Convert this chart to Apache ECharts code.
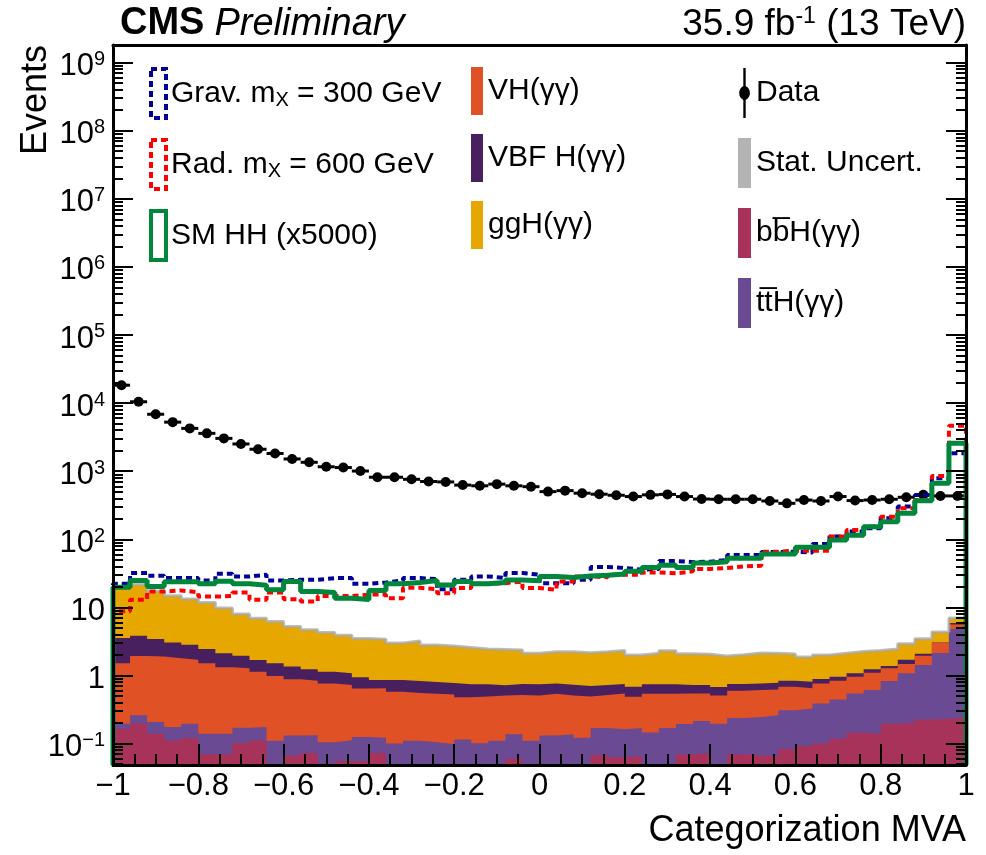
<!DOCTYPE html>
<html>
<head>
<meta charset="utf-8">
<title>Categorization MVA</title>
<script src="https://cdn.jsdelivr.net/npm/echarts@6.0.0/dist/echarts.min.js"></script>
<style>
  html, body { margin: 0; padding: 0; background: #fff; }
  #chart { width: 986px; height: 855px; }
</style>
</head>
<body>
<div id="chart"></div>
<script>
// 50 bins of the MVA output, from -1 to 1
var binLow = -1, binWidth = 0.04, nBins = 50;

// observed events
var dataEvents = [18300, 10450, 6850, 5250, 4250, 3590, 3030, 2510, 2100, 1820,
                  1510, 1350, 1160, 1130, 1005, 815, 815, 760, 705, 695,
                  625, 610, 645, 610, 592, 501, 518, 475, 459, 443,
                  424, 449, 456, 424, 390, 387, 387, 387, 365, 337,
                  377, 365, 424, 370, 377, 387, 414, 449, 433, 433];

// signal hypotheses
var gravSignal = [22.2, 31.9, 29.1, 26.9, 26.9, 24.8, 31.2, 28.4, 30.2, 24.8,
                  25.4, 25.4, 26.9, 26.9, 22.2, 23.2, 24.8, 26.9, 26.1, 18.5,
                  25.4, 28.5, 26.9, 31.9, 30.2, 22.7, 22.7, 25.4, 39.2, 37.9,
                  35.8, 36.6, 48, 46.2, 46.9, 49.7, 58.9, 58.9, 65.1, 65.6,
                  63.8, 85.5, 110, 130, 145, 204, 302, 447, 788, 1830];
var radSignal = [8.8, 12.9, 17.1, 17.7, 16.7, 14.4, 14.7, 16.5, 12.9, 16.5,
                 13.2, 12.2, 14.7, 14.7, 15.4, 15.4, 13.6, 19.4, 18.5, 16.1,
                 19.2, 22.2, 22.7, 24, 19.2, 18.1, 24, 28.5, 27.7, 30.2,
                 30.2, 32.6, 31.6, 33.8, 36.6, 37.9, 40, 40.9, 65.8, 68.1,
                 68.1, 68.1, 110, 137, 154, 215, 286, 376, 852, 4650];
var smHHSignal = [19.8, 24.8, 20.2, 23.8, 23.8, 22.2, 24.3, 22.2, 21.2, 18.1,
                  24, 17.1, 16.5, 13.6, 13.1, 17.7, 22.2, 23.2, 24.8, 21.4,
                  24, 22.2, 23.2, 25.2, 24.6, 28.5, 27.5, 28.8, 29.6, 31,
                  33.8, 38.6, 41.5, 38.6, 44.9, 46.9, 52.6, 52.6, 60.9, 60.9,
                  76.5, 76.5, 98, 115, 153, 181, 241, 368, 665, 2580];

// single-Higgs backgrounds, stacked bottom to top
var bbH = [0.165, 0.196, 0.14, 0.111, 0.121, 0.07, 0.07, 0.101, 0.111, 0.03,
           0.067, 0.073, 0.03, 0.055, 0.055, 0.073, 0.042, 0.03, 0.03, 0.03,
           0.03, 0.03, 0.03, 0.06, 0.03, 0.03, 0.03, 0.03, 0.068, 0.063,
           0.065, 0.03, 0.03, 0.069, 0.073, 0.03, 0.07, 0.067, 0.067, 0.083,
           0.092, 0.1, 0.118, 0.144, 0.14, 0.196, 0.203, 0.225, 0.232, 0.24];
var ttH = [0.031, 0.064, 0.067, 0.064, 0.075, 0.069, 0.069, 0.07, 0.064, 0.08,
           0.065, 0.06, 0.075, 0.057, 0.07, 0.049, 0.058, 0.08, 0.075, 0.069,
           0.085, 0.071, 0.08, 0.077, 0.08, 0.101, 0.107, 0.092, 0.101, 0.099,
           0.104, 0.115, 0.139, 0.125, 0.142, 0.165, 0.168, 0.179, 0.194, 0.225,
           0.236, 0.288, 0.326, 0.401, 0.47, 0.633, 0.875, 1.205, 1.9, 4.58];
var VH = [1.32, 1.68, 1.69, 1.62, 1.5, 1.38, 1.18, 1.11, 0.96, 0.87,
          0.746, 0.707, 0.656, 0.613, 0.521, 0.525, 0.476, 0.441, 0.434, 0.428,
          0.365, 0.389, 0.4, 0.378, 0.4, 0.408, 0.372, 0.369, 0.346, 0.383,
          0.317, 0.394, 0.37, 0.351, 0.331, 0.314, 0.358, 0.364, 0.364, 0.375,
          0.319, 0.378, 0.395, 0.415, 0.49, 0.449, 0.403, 0.513, 0.857, 0.768];
var VBF = [2.04, 1.9, 1.53, 1.26, 1.13, 0.92, 0.81, 0.665, 0.558, 0.533,
           0.472, 0.395, 0.372, 0.355, 0.295, 0.212, 0.282, 0.282, 0.265, 0.25,
           0.264, 0.253, 0.208, 0.234, 0.234, 0.221, 0.225, 0.211, 0.208, 0.205,
           0.198, 0.205, 0.205, 0.179, 0.179, 0.168, 0.154, 0.156, 0.158, 0.156,
           0.164, 0.121, 0.121, 0.118, 0.133, 0.104, 0.215, 0.139, 0.071, 0.333];
var ggH = [16.0, 17.8, 13.8, 11.8, 10.4, 9.4, 7.66, 6.05, 5.26, 4.7,
           3.88, 3.47, 3.13, 2.83, 2.55, 2.55, 2.15, 2.38, 2.01, 1.94,
           1.84, 1.7, 1.7, 1.62, 1.37, 1.48, 1.5, 1.46, 1.51, 1.57,
           1.32, 1.37, 1.57, 1.37, 1.33, 1.26, 1.26, 1.37, 1.34, 1.23,
           1.05, 1.12, 1.17, 1.17, 1.09, 1.06, 1.23, 1.38, 1.3, 1.08];

// y axis decades that carry a label
var yMajorTicks = [0.1, 1, 10, 1e2, 1e3, 1e4, 1e5, 1e6, 1e7, 1e8, 1e9];

var FONT = 'Liberation Sans, Arial, Helvetica, sans-serif';
var yMin = 0.0485, yMax = 1.81e9;

// bin edges
var edges = [];
for (var i = 0; i <= nBins; i++) edges.push(+(binLow + i * binWidth).toFixed(2));

// minor ticks 2..9 in every decade
var yMinorTicks = [];
for (var d = -2; d <= 9; d++) {
    for (var m = 2; m <= 9; m++) {
        var t = m * Math.pow(10, d);
        if (t >= yMin && t <= yMax) yMinorTicks.push(t);
    }
}

// histogram as step points (left edges + closing right edge)
function stepData(vals, closed) {
    var pts = [];
    if (closed) pts.push([edges[0], yMin]);
    for (var i = 0; i < vals.length; i++) pts.push([edges[i], vals[i]]);
    pts.push([edges[vals.length], vals[vals.length - 1]]);
    if (closed) pts.push([edges[vals.length], yMin]);
    return pts;
}

// running sums of the stack (THStack style)
function addArr(a, b) { return a.map(function (v, i) { return v + b[i]; }); }
var upToBBH = bbH.slice();
var upToTTH = addArr(upToBBH, ttH);
var upToVH = addArr(upToTTH, VH);
var upToVBF = addArr(upToVH, VBF);
var totalBkg = addArr(upToVBF, ggH);

var nGrav = 'Grav. mX = 300 GeV', nRad = 'Rad. mX = 600 GeV', nSM = 'SM HH (x5000)';
var nVH = 'VH(γγ)', nVBF = 'VBF H(γγ)', nGGH = 'ggH(γγ)';
var nData = 'Data', nStat = 'Stat. Uncert.', nBBH = 'bb\u0305H(γγ)', nTTH = 'tt\u0305H(γγ)';

var legendLabels = {};
legendLabels[nGrav] = 'Grav. m{sub|X} = 300 GeV';
legendLabels[nRad] = 'Rad. m{sub|X} = 600 GeV';

var colors = {
    bbH: '#a8335a', ttH: '#6b4a94', VH: '#e05126', VBF: '#481f5f', ggH: '#e6a800',
    stat: '#b3b3b3', grav: '#000099', rad: '#ff0000', sm: '#00873c'
};

// each layer is drawn from its running sum down to the axis floor
function stackSeries(name, cum, color) {
    return {
        name: name, type: 'line', step: 'end', symbol: 'none',
        data: stepData(cum, false),
        lineStyle: { width: 0, color: color },
        itemStyle: { color: color },
        areaStyle: { color: color, opacity: 1, origin: 'start' },
        silent: true
    };
}

function signalSeries(name, vals, color, width, type) {
    return {
        name: name, type: 'line', step: 'end', symbol: 'none',
        data: stepData(vals, true),
        lineStyle: { width: width, color: color, type: type },
        itemStyle: { color: color },
        silent: true
    };
}

var legendText = {
    fontFamily: FONT, fontSize: 30, color: '#000', padding: [0, 0, 0, 0],
    rich: { sub: { fontFamily: FONT, fontSize: 20, color: '#000', padding: [14, 0, 0, 0] } }
};

function fmtY(v) {
    var e = Math.round(Math.log10(v));
    if (e === 0) return '1';
    if (e === 1) return '10';
    return '10{sup|' + (e < 0 ? '\u2212' + (-e) : e) + '}';
}
function fmtX(v) {
    return String(Math.round(v * 10) / 10).replace('-', '\u2212');
}

var yCommon = {
    type: 'log', logBase: 10, min: yMin, max: yMax, z: 10,
    splitLine: { show: false }, minorTick: { show: false }, minorSplitLine: { show: false }
};
var tickLine = { color: '#000', width: 2 };

var option = {
    animation: false,
    backgroundColor: '#fff',
    grid: { left: 113, right: 20, top: 45, bottom: 90, containLabel: false },
    title: [
        { text: '{b|CMS}  {i|Preliminary}', left: 120, top: 5, padding: 0,
          textStyle: { fontWeight: 'normal', rich: {
              b: { fontFamily: FONT, fontSize: 38, fontWeight: 'bold', color: '#000' },
              i: { fontFamily: FONT, fontSize: 38, fontWeight: 'normal', fontStyle: 'italic', color: '#000' } } } },
        { text: '35.9 fb{sup|-1} (13 TeV)', right: 20, top: 5, padding: 0,
          textStyle: { fontFamily: FONT, fontSize: 37, fontWeight: 'normal', color: '#000',
              rich: { sup: { fontFamily: FONT, fontSize: 23, color: '#000', padding: [0, 0, 16, 0] } } } },
        { text: 'Categorization MVA', right: 20, top: 813, padding: 0,
          textStyle: { fontFamily: FONT, fontSize: 36, fontWeight: 'normal', color: '#000' } }
    ],
    graphic: [
        { type: 'text', x: 36, y: 45, rotation: Math.PI / 2,
          style: { text: 'Events', font: '36px ' + FONT, fill: '#000', textAlign: 'right', textVerticalAlign: 'middle' } }
    ],
    legend: [
        { left: 144, top: 62, orient: 'vertical', itemWidth: 15, itemHeight: 49, itemGap: 18,
          selectedMode: false, textStyle: legendText,
          formatter: function (n) { return legendLabels[n] || n; },
          data: [
              { name: nGrav, icon: 'rect', itemStyle: { color: 'rgba(255,255,255,0)', borderColor: colors.grav, borderWidth: 4, borderType: [6, 4] } },
              { name: nRad, icon: 'rect', itemStyle: { color: 'rgba(255,255,255,0)', borderColor: colors.rad, borderWidth: 4, borderType: [6, 4] } },
              { name: nSM, icon: 'rect', itemStyle: { color: 'rgba(255,255,255,0)', borderColor: colors.sm, borderWidth: 4, borderType: 'solid' } }
          ] },
        { left: 466, top: 62, orient: 'vertical', itemWidth: 12, itemHeight: 48, itemGap: 19,
          selectedMode: false, textStyle: legendText,
          data: [
              { name: nVH, icon: 'rect', itemStyle: { color: colors.VH, borderWidth: 0 } },
              { name: nVBF, icon: 'rect', itemStyle: { color: colors.VBF, borderWidth: 0 } },
              { name: nGGH, icon: 'rect', itemStyle: { color: colors.ggH, borderWidth: 0 } }
          ] },
        { left: 733, top: 63, orient: 'vertical', itemWidth: 13, itemHeight: 50, itemGap: 20,
          selectedMode: false, textStyle: legendText,
          data: [
              { name: nData, icon: 'path://M5.5,0L7.5,0L7.5,15.2A6.5,6.5 0 0 1 7.5,26.8L7.5,42L5.5,42L5.5,26.8A6.5,6.5 0 0 1 5.5,15.2Z', itemStyle: { color: '#000', borderWidth: 0 } },
              { name: nStat, icon: 'rect', itemStyle: { color: colors.stat, borderWidth: 0 } },
              { name: nBBH, icon: 'rect', itemStyle: { color: colors.bbH, borderWidth: 0 } },
              { name: nTTH, icon: 'rect', itemStyle: { color: colors.ttH, borderWidth: 0 } }
          ] }
    ],
    xAxis: [
        { type: 'value', position: 'bottom', min: -1, max: 1, interval: 0.2, z: 10,
          axisLine: { onZero: false, lineStyle: { color: '#000', width: 3 } },
          axisTick: { inside: true, length: 21, lineStyle: tickLine },
          minorTick: { show: true, splitNumber: 4, length: 11, lineStyle: tickLine },
          splitLine: { show: false }, minorSplitLine: { show: false },
          axisLabel: { margin: 6, fontFamily: FONT, fontSize: 31, color: '#000', formatter: fmtX } },
        { type: 'value', position: 'top', min: -1, max: 1, z: 10,
          axisLine: { onZero: false, lineStyle: { color: '#000', width: 3 } },
          axisTick: { show: false }, axisLabel: { show: false }, splitLine: { show: false } }
    ],
    yAxis: [
        Object.assign({}, yCommon, { position: 'left',
          axisLine: { onZero: false, lineStyle: { color: '#000', width: 3 } },
          axisTick: { inside: true, length: 20, customValues: yMajorTicks, lineStyle: tickLine },
          axisLabel: { customValues: yMajorTicks, formatter: fmtY, margin: 8, padding: [8, 0, 0, 0],
              fontFamily: FONT, fontSize: 31, color: '#000',
              rich: { sup: { fontFamily: FONT, fontSize: 20, color: '#000', padding: [0, 0, 14, 0] } } } }),
        Object.assign({}, yCommon, { position: 'left',
          axisLine: { show: false, onZero: false },
          axisTick: { inside: true, length: 10, customValues: yMinorTicks, lineStyle: tickLine },
          axisLabel: { show: false } }),
        Object.assign({}, yCommon, { position: 'right',
          axisLine: { onZero: false, lineStyle: { color: '#000', width: 3 } },
          axisTick: { inside: true, length: 20, customValues: yMajorTicks, lineStyle: tickLine },
          axisLabel: { show: false } }),
        Object.assign({}, yCommon, { position: 'right',
          axisLine: { show: false, onZero: false },
          axisTick: { inside: true, length: 10, customValues: yMinorTicks, lineStyle: tickLine },
          axisLabel: { show: false } })
    ],
    series: [
        stackSeries(nGGH, totalBkg, colors.ggH),
        stackSeries(nVBF, upToVBF, colors.VBF),
        stackSeries(nVH, upToVH, colors.VH),
        stackSeries(nTTH, upToTTH, colors.ttH),
        stackSeries(nBBH, upToBBH, colors.bbH),
        { name: nStat, type: 'line', step: 'end', symbol: 'none', silent: true,
          data: stepData(totalBkg, false),
          lineStyle: { width: 3, color: 'rgba(165,165,165,0.75)' },
          itemStyle: { color: colors.stat } },
        signalSeries(nGrav, gravSignal, colors.grav, 4, [6, 4]),
        signalSeries(nRad, radSignal, colors.rad, 4, [6, 4]),
        signalSeries(nSM, smHHSignal, colors.sm, 5, 'solid'),
        { name: nData, type: 'custom', silent: true,
          itemStyle: { color: '#000' },
          encode: { x: [0, 1], y: 2 },
          data: dataEvents.map(function (v, i) { return [edges[i], edges[i + 1], v]; }),
          renderItem: function (params, api) {
              var lo = api.coord([api.value(0), api.value(2)]);
              var hi = api.coord([api.value(1), api.value(2)]);
              return {
                  type: 'group',
                  children: [
                      { type: 'line', shape: { x1: lo[0], y1: lo[1], x2: hi[0], y2: hi[1] },
                        style: { stroke: '#000', lineWidth: 3 } },
                      { type: 'circle', shape: { cx: (lo[0] + hi[0]) / 2, cy: lo[1], r: 5 },
                        style: { fill: '#000' } }
                  ]
              };
          } }
    ]
};

var chart = echarts.init(document.getElementById('chart'), null, { renderer: 'canvas' });
chart.setOption(option);
</script>
</body>
</html>
